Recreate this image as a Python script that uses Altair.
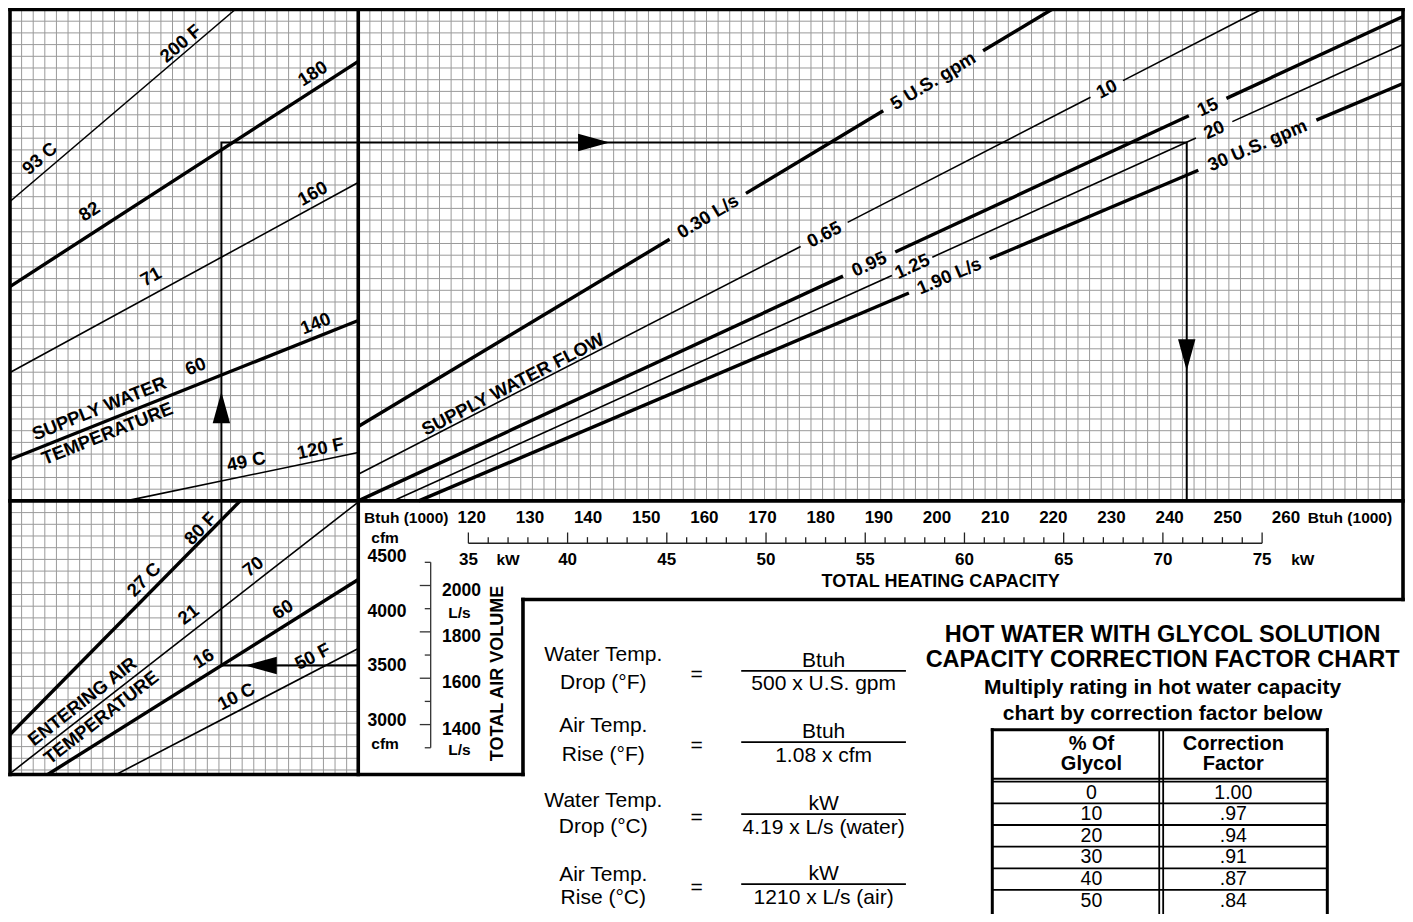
import math
import altair as alt
import pandas as pd

# ------------------------------------------------------------------
# Drawing frame: one unit = one cell of the graph paper.
# x = cells from the left border, y = cells down from the top border.
# ------------------------------------------------------------------
W, H = 1397, 906
X_DOM = [-0.1723, 120.172]
Y_DOM = [-0.128, 77.308]
KX = W / (X_DOM[1] - X_DOM[0])
KY = H / (Y_DOM[1] - Y_DOM[0])
FONT = "Liberation Sans"
INK = "#000000"
GRID = "#9a9a9a"

# panel layout (cells)
TOP_H = 42
LEFT_W = 30
RIGHT_END = 120
LOW_END = 65.38
BOX_X = 44.19
BOX_Y = 50.43

# ------------------------------ DATA ------------------------------
# Supply water temperature lines (upper-left panel)
swt_f = ["200 F", "180", "160", "140", "120 F"]
swt_c = ["93 C", "82", "71", "60", "49 C"]
swt_x0 = [0, 0, 0, 0, 10.0]
swt_y0 = [16.41, 23.68, 31.03, 38.46, 42]
swt_x1 = [19.40, 30, 30, 30, 30]
swt_y1 = [0, 4.44, 14.79, 26.58, 37.86]
swt_heavy = [False, True, False, True, False]
swt_f_x = [14.70, 26.07, 26.07, 26.32, 26.75]
swt_f_y = [2.91, 5.47, 15.73, 26.84, 37.52]
swt_c_x = [2.56, 6.84, 12.14, 15.98, 20.34]
swt_c_y = [12.74, 17.26, 22.82, 30.51, 38.63]

# Entering air temperature lines (lower-left panel)
eat_f = ["80 F", "70", "60", "50 F"]
eat_c = ["27 C", "21", "16", "10 C"]
eat_x0 = [0, 0, 3.25, 9.15]
eat_y0 = [61.97, 65.3, 65.38, 65.38]
eat_x1 = [19.83, 30, 30, 30]
eat_y1 = [42, 42.1, 48.72, 54.62]
eat_heavy = [True, False, True, False]
eat_f_x = [16.41, 20.94, 23.50, 26.07]
eat_f_y = [44.36, 47.61, 51.28, 55.30]
eat_c_x = [11.54, 15.38, 16.67, 19.49]
eat_c_y = [48.72, 51.71, 55.47, 58.72]

# Supply water flow lines (upper-right panel)
flow_gpm_lbl = ["5 U.S. gpm", "10", "15", "20", "30 U.S. gpm"]
flow_ls_lbl = ["0.30 L/s", "0.65", "0.95", "1.25", "1.90 L/s"]
flow_x0 = [30, 30, 30, 32.99, 35.21]
flow_y0 = [35.64, 39.72, 42, 42, 42]
flow_x1 = [89.74, 107.78, 120, 120, 120]
flow_y1 = [0, 0, 0.60, 2.99, 6.32]
flow_heavy = [True, False, True, False, True]
ls_t = [0.504, 0.516, 0.489, 0.514, 0.539]
ls_gap = [0.055, 0.026, 0.025, 0.020, 0.041]
gpm_t = [0.829, 0.829, 0.813, 0.813, 0.852]
gpm_gap = [0.072, 0.018, 0.018, 0.018, 0.060]

# Worked example route and its arrowheads
route_x = [30, 18.21, 18.21, 101.37, 101.37]
route_y = [56.07, 56.07, 11.37, 11.37, 42]
arrow_x = [18.21, 50.30, 101.37, 21.62]
arrow_y = [34.02, 11.37, 29.53, 56.07]
arrow_dir = [0, 90, 180, 270]

# Total heating capacity scale
btuh_k = [120, 130, 140, 150, 160, 170, 180, 190, 200, 210, 220, 230, 240, 250, 260]
kw_major = [35, 40, 45, 50, 55, 60, 65, 70, 75]
kw_minor = list(range(35, 76))
KBTUH_PER_KW = 3.412
KW_CAL = (35, 39.487, 75, 107.863)     # kW value -> cell x

# Total air volume scale
cfm_vals = [4500, 4000, 3500, 3000]
ls_vals = [2000, 1800, 1600, 1400]
ls_ticks = list(range(1300, 2101, 100))
LS_PER_CFM = 0.4719
LS_CAL = (2100, 47.25, 1300, 63.10)    # L/s value -> cell y

# Formulas
form_l1 = ["Water Temp.", "Air Temp.", "Water Temp.", "Air Temp."]
form_l2 = ["Drop (°F)", "Rise (°F)", "Drop (°C)", "Rise (°C)"]
form_num = ["Btuh", "Btuh", "kW", "kW"]
form_den = ["500 x U.S. gpm", "1.08 x cfm", "4.19 x L/s (water)", "1210 x L/s (air)"]
form_l1_y = [55.16, 61.28, 67.69, 73.96]
form_l2_y = [57.58, 63.70, 69.83, 75.96]
form_bar_y = [56.52, 62.62, 68.78, 74.76]

# Glycol correction table
glycol_pct = ["0", "10", "20", "30", "40", "50"]
glycol_factor = ["1.00", ".97", ".94", ".91", ".87", ".84"]
table_title = ["HOT WATER WITH GLYCOL SOLUTION", "CAPACITY CORRECTION FACTOR CHART"]
table_sub = ["Multiply rating in hot water capacity", "chart by correction factor below"]

# ------------------------------ SCALES ------------------------------
def sx():
    return alt.Scale(domain=X_DOM, nice=False, zero=False)


def sy():
    return alt.Scale(domain=Y_DOM, nice=False, zero=False, reverse=True)


def skw():
    v1, c1, v2, c2 = KW_CAL
    k = (c2 - c1) / (v2 - v1)
    return alt.Scale(domain=[v1 + (X_DOM[0] - c1) / k, v1 + (X_DOM[1] - c1) / k], nice=False, zero=False)


def sls():
    v1, c1, v2, c2 = LS_CAL
    k = (c2 - c1) / (v2 - v1)
    return alt.Scale(domain=[v1 + (Y_DOM[1] - c1) / k, v1 + (Y_DOM[0] - c1) / k], nice=False, zero=False)


def ang(x0, y0, x1, y1):
    return math.degrees(math.atan2((y1 - y0) * KY, (x1 - x0) * KX))


def seg(df, width, color=INK, cap="butt", xs=None, ys=None):
    return alt.Chart(df).mark_rule(strokeWidth=width, color=color, strokeCap=cap).encode(
        x=alt.X("x:Q", scale=xs if xs is not None else sx(), axis=None),
        y=alt.Y("y:Q", scale=ys if ys is not None else sy(), axis=None),
        x2=alt.X2("x2:Q"), y2=alt.Y2("y2:Q"))


def txt(df, size, weight="bold", align="center", dy=0, xs=None, ys=None):
    if "a" not in df.columns:
        df = df.assign(a=0.0)
    df = df.assign(a=(df["a"] + 360) % 360)
    return alt.Chart(df).mark_text(font=FONT, fontSize=size, fontWeight=weight, align=align,
                                   baseline="middle", color=INK, dy=dy).encode(
        x=alt.X("x:Q", scale=xs if xs is not None else sx(), axis=None),
        y=alt.Y("y:Q", scale=ys if ys is not None else sy(), axis=None),
        text=alt.Text("t:N"), angle=alt.Angle("a:Q", scale=None))


def segs_df(rows):
    return pd.DataFrame(rows, columns=["x", "y", "x2", "y2"])


layers = []

# ---- graph paper ----
g = []
for i in range(1, RIGHT_END):
    if i == LEFT_W:
        continue
    g.append((i, 0, i, LOW_END if i < LEFT_W else TOP_H))
for j in range(1, int(LOW_END) + 1):
    if j == TOP_H:
        continue
    g.append((0, j, RIGHT_END if j < TOP_H else LEFT_W, j))
layers.append(seg(segs_df(g), 1, GRID))

# ---- temperature lines ----
heavy, light = [], []
for i in range(5):
    (heavy if swt_heavy[i] else light).append((swt_x0[i], swt_y0[i], swt_x1[i], swt_y1[i]))
for i in range(4):
    (heavy if eat_heavy[i] else light).append((eat_x0[i], eat_y0[i], eat_x1[i], eat_y1[i]))

# ---- flow lines split around their labels ----
flow_lbl = []
for i in range(5):
    x0, y0, x1, y1 = flow_x0[i], flow_y0[i], flow_x1[i], flow_y1[i]
    gaps = sorted([(ls_t[i], ls_gap[i]), (gpm_t[i], gpm_gap[i])])
    s = 0.0
    pieces = []
    for t, h in gaps:
        pieces.append((s, t - h))
        s = t + h
    pieces.append((s, 1.0))
    for a, b in pieces:
        row = (x0 + (x1 - x0) * a, y0 + (y1 - y0) * a, x0 + (x1 - x0) * b, y0 + (y1 - y0) * b)
        (heavy if flow_heavy[i] else light).append(row)
    an = ang(x0, y0, x1, y1)
    for lbl, t in ((flow_ls_lbl[i], ls_t[i]), (flow_gpm_lbl[i], gpm_t[i])):
        flow_lbl.append((lbl, x0 + (x1 - x0) * t, y0 + (y1 - y0) * t, an))

layers.append(seg(segs_df(light), 1.6))
layers.append(seg(segs_df(heavy), 3.4))

# ---- worked example route ----
route = pd.DataFrame(dict(x=route_x, y=route_y, i=list(range(len(route_x)))))
layers.append(alt.Chart(route).mark_line(color=INK, strokeWidth=2, strokeJoin="miter").encode(
    x=alt.X("x:Q", scale=sx(), axis=None), y=alt.Y("y:Q", scale=sy(), axis=None),
    order=alt.Order("i:Q")))
arrows = pd.DataFrame(dict(x=arrow_x, y=arrow_y, a=arrow_dir))
layers.append(alt.Chart(arrows).mark_point(shape="M0,-1L0.55,1L-0.55,1Z", filled=True, color=INK,
                                           opacity=1, size=1000, strokeWidth=0).encode(
    x=alt.X("x:Q", scale=sx(), axis=None), y=alt.Y("y:Q", scale=sy(), axis=None),
    angle=alt.Angle("a:Q", scale=None)))

# ---- frame ----
frame = [
    (0, 0, RIGHT_END, 0), (0, 0, 0, LOW_END), (RIGHT_END, 0, RIGHT_END, BOX_Y),
    (LEFT_W, 0, LEFT_W, LOW_END), (0, TOP_H, RIGHT_END, TOP_H), (0, LOW_END, BOX_X, LOW_END),
    (BOX_X, BOX_Y, BOX_X, LOW_END), (BOX_X, BOX_Y, RIGHT_END, BOX_Y),
]
layers.append(seg(segs_df(frame), 3.6, cap="square"))

# ---- panel labels ----
lab = []
for i in range(5):
    an = ang(swt_x0[i], swt_y0[i], swt_x1[i], swt_y1[i])
    lab.append((swt_f[i], swt_f_x[i], swt_f_y[i], an))
    lab.append((swt_c[i], swt_c_x[i], swt_c_y[i], an))
for i in range(4):
    an = ang(eat_x0[i], eat_y0[i], eat_x1[i], eat_y1[i])
    lab.append((eat_f[i], eat_f_x[i], eat_f_y[i], an))
    lab.append((eat_c[i], eat_c_x[i], eat_c_y[i], an))
a140 = ang(swt_x0[3], swt_y0[3], swt_x1[3], swt_y1[3])
a70 = ang(eat_x0[1], eat_y0[1], eat_x1[1], eat_y1[1])
a10 = ang(flow_x0[1], flow_y0[1], flow_x1[1], flow_y1[1])
lab += [("SUPPLY WATER", 7.69, 34.10, a140), ("TEMPERATURE", 8.38, 36.24, a140),
        ("ENTERING AIR", 6.24, 59.15, a70), ("TEMPERATURE", 7.86, 60.51, a70),
        ("SUPPLY WATER FLOW", 43.33, 32.05, a10)]
lab += flow_lbl
layers.append(txt(pd.DataFrame(lab, columns=["t", "x", "y", "a"]), 18.5))

# ---- total heating capacity scale (kW scale) ----
ticks = [(k, 44.70 if k % 5 == 0 else 45.10, k, 45.62) for k in kw_minor]
ticks.append((kw_major[0], 45.62, kw_major[-1], 45.62))
layers.append(seg(segs_df(ticks), 1.3, "#222222", xs=skw()))
layers.append(txt(pd.DataFrame(dict(t=[str(v) for v in btuh_k], x=[v / KBTUH_PER_KW for v in btuh_k],
                                    y=[43.5] * len(btuh_k))), 17, xs=skw()))
layers.append(txt(pd.DataFrame(dict(t=[str(v) for v in kw_major], x=kw_major, y=[47.01] * len(kw_major))),
                  17, xs=skw()))
layers.append(txt(pd.DataFrame(dict(t=["kW", "kW"], x=[37.0, 77.05], y=[47.01, 47.01])), 15.5, xs=skw()))
layers.append(txt(pd.DataFrame(dict(t=["Btuh (1000)"], x=[77.3], y=[43.45])), 15.5, align="left", xs=skw()))
layers.append(txt(pd.DataFrame(dict(t=["Btuh (1000)"], x=[30.5], y=[43.45])), 15.5, align="left"))
layers.append(txt(pd.DataFrame(dict(t=["TOTAL HEATING CAPACITY"], x=[80.17], y=[48.89])), 18))

# ---- total air volume scale (L/s scale) ----
at = [(35.30 if v % 200 == 0 else 35.73, v, 36.24, v) for v in ls_ticks]
at.append((36.24, ls_ticks[0], 36.24, ls_ticks[-1]))
layers.append(seg(segs_df(at), 1.3, "#333333", ys=sls()))
layers.append(txt(pd.DataFrame(dict(t=[str(v) for v in cfm_vals], x=[32.48] * 4,
                                    y=[v * LS_PER_CFM for v in cfm_vals])), 17.5, ys=sls()))
layers.append(txt(pd.DataFrame(dict(t=[str(v) for v in ls_vals], x=[38.89] * 4, y=ls_vals)), 17.5, dy=5, ys=sls()))
layers.append(txt(pd.DataFrame(dict(t=["cfm", "cfm", "L/s", "L/s"], x=[32.31, 32.31, 38.72, 38.72],
                                    y=[45.21, 62.74, 51.62, 63.33])), 15.5))
layers.append(txt(pd.DataFrame(dict(t=["TOTAL AIR VOLUME"], x=[42.05], y=[56.75], a=[-90.0])), 18))

# ---- formulas ----
f_rows = []
for i in range(4):
    f_rows += [(form_l1[i], 51.11, form_l1_y[i]), (form_l2[i], 51.11, form_l2_y[i]),
               ("=", 59.15, form_bar_y[i] + 0.35), (form_num[i], 70.09, form_bar_y[i] - 0.87),
               (form_den[i], 70.09, form_bar_y[i] + 1.15)]
layers.append(txt(pd.DataFrame(f_rows, columns=["t", "x", "y"]), 21, weight="normal"))
layers.append(seg(segs_df([(62.99, b, 77.18, b) for b in form_bar_y]), 1.7))

# ---- glycol table ----
T_L, T_R, T_M1, T_M2 = 84.62, 113.48, 99.0, 99.34
T_TOP, H1, H2, ROW_H = 61.55, 65.75, 66.0, 1.85
COL1, COL2 = 93.16, 105.38
layers.append(txt(pd.DataFrame(dict(t=table_title, x=[99.29] * 2, y=[53.45, 55.6])), 23.5))
layers.append(txt(pd.DataFrame(dict(t=table_sub, x=[99.29] * 2, y=[57.95, 60.2])), 21))
layers.append(txt(pd.DataFrame(dict(t=["% Of", "Glycol", "Correction", "Factor"],
                                    x=[COL1, COL1, COL2, COL2], y=[62.8, 64.5, 62.8, 64.5])), 20))
rows_t = []
for i in range(len(glycol_pct)):
    yc = H2 + ROW_H * (i + 0.5)
    rows_t += [(glycol_pct[i], COL1, yc), (glycol_factor[i], COL2, yc)]
layers.append(txt(pd.DataFrame(rows_t, columns=["t", "x", "y"]), 19.5, weight="normal"))
tb_outer = [(T_L, T_TOP, T_R, T_TOP), (T_L, T_TOP, T_L, Y_DOM[1]), (T_R, T_TOP, T_R, Y_DOM[1])]
layers.append(seg(segs_df(tb_outer), 3, cap="square"))
tb_inner = [(T_M1, T_TOP, T_M1, Y_DOM[1]), (T_M2, T_TOP, T_M2, Y_DOM[1]),
            (T_L, H1, T_R, H1), (T_L, H2, T_R, H2)]
tb_inner += [(T_L, H2 + ROW_H * (i + 1), T_R, H2 + ROW_H * (i + 1)) for i in range(len(glycol_pct) - 1)]
layers.append(seg(segs_df(tb_inner), 1.8))

chart = alt.layer(*layers).properties(
    width=W, height=H, padding=0, autosize=alt.AutoSizeParams(type="none")
).resolve_scale(x="independent", y="independent").configure_view(stroke=None)

chart.save("out.html", embed_options={"renderer": "svg", "actions": False})
